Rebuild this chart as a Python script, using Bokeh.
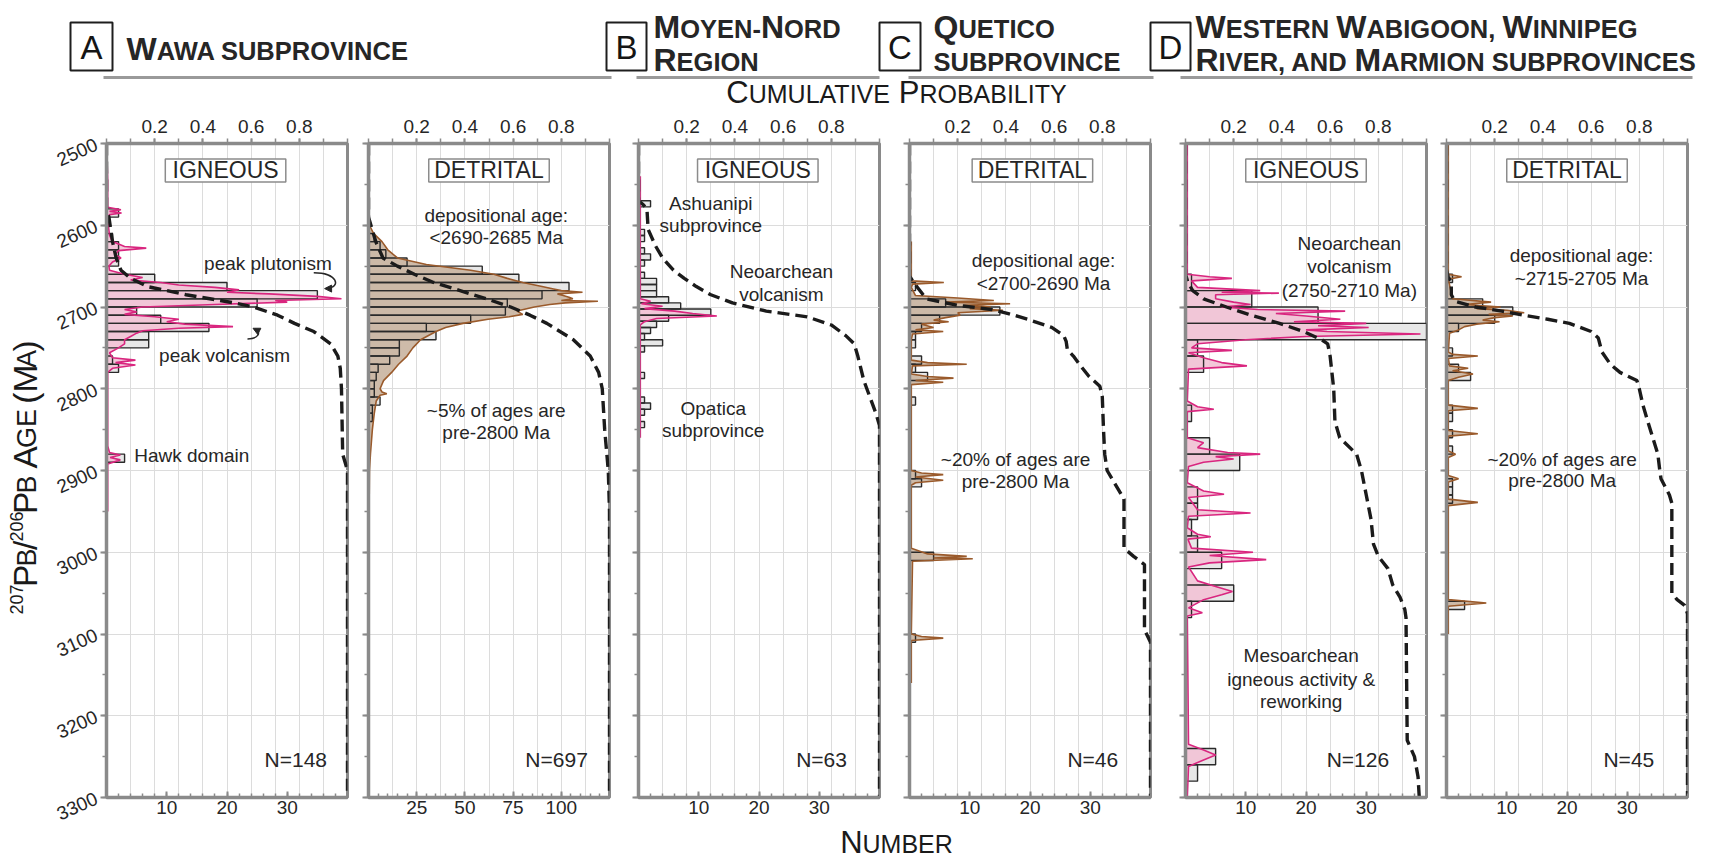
import math
from bokeh.plotting import figure
from bokeh.models import Range1d, LinearAxis, FixedTicker, Arrow, NormalHead
from bokeh.layouts import row, column
from bokeh.embed import file_html
from bokeh.resources import INLINE
from bokeh.core.properties import value

# ---------------------------------------------------------------- data
age_ticks = [2500, 2600, 2700, 2800, 2900, 3000, 3100, 3200, 3300]
age_minor_ticks = [2500, 2550, 2600, 2650, 2700, 2750, 2800, 2850, 2900, 2950,
                   3000, 3050, 3100, 3150, 3200, 3250, 3300]
prob_ticks = [0.2, 0.4, 0.6, 0.8]
prob_minor_ticks = [0.0, 0.1, 0.2, 0.3, 0.4, 0.5, 0.6, 0.7, 0.8, 0.9, 1.0]
num_ticks_40 = [10, 20, 30]
num_minor_40 = [0, 2, 4, 6, 8, 10, 12, 14, 16, 18, 20, 22, 24, 26, 28, 30, 32, 34, 36, 38, 40]
num_ticks_125 = [25, 50, 75, 100]
num_minor_125 = [0, 5, 10, 15, 20, 25, 30, 35, 40, 45, 50, 55, 60, 65, 70, 75, 80, 85, 90,
                 95, 100, 105, 110, 115, 120, 125]

# A - Wawa subprovince, igneous
wawa_ig_bin_start = [2580, 2610, 2620, 2630, 2640, 2660, 2670, 2680, 2690, 2700, 2710,
                     2720, 2730, 2740, 2760, 2770, 2880]
wawa_ig_bin_count = [2, 1, 2, 2, 2, 8, 20, 35, 25, 5, 9, 17, 7, 7, 1, 2, 3]
wawa_ig_kde_age = [2500, 2545, 2578, 2581, 2583, 2585, 2587, 2590, 2600, 2612,
                   2620, 2626, 2628, 2631, 2636, 2640, 2645, 2650, 2655, 2660,
                   2664, 2667, 2670, 2673, 2676, 2679, 2682, 2684, 2687, 2690,
                   2692, 2694, 2697, 2700, 2703, 2706, 2709, 2712, 2715, 2718,
                   2721, 2724, 2726, 2729, 2732, 2736, 2740, 2745, 2750, 2756,
                   2762, 2765, 2768, 2771, 2775, 2780, 2870, 2878, 2881, 2884,
                   2887, 2892, 2950]
wawa_ig_kde_val = [0, 0.2, 0.2, 2.4, 0.5, 2.5, 0.5, 0.2, 0.3, 0.5,
                   1.0, 3, 6.6, 2, 1.5, 2.4, 1, 0.4, 0.5, 3,
                   6, 4, 9, 12, 18, 22, 20, 27, 35, 39,
                   28, 30, 18, 6, 3, 5, 3, 8, 12, 10,
                   13, 21, 12, 6, 5, 4, 3, 3, 2, 0.5,
                   1, 4.8, 1.5, 4.8, 1, 0.2, 0.2, 0.5, 2.3, 0.6,
                   2.3, 0.2, 0.2]
wawa_ig_cum_age = [2500, 2580, 2590, 2600, 2620, 2640, 2655, 2665, 2675, 2685, 2695, 2700,
                   2710, 2720, 2730, 2745, 2760, 2775, 2800, 2880, 2890, 2900, 3300]
wawa_ig_cum_prob = [0, 0, 0.01, 0.015, 0.025, 0.04, 0.06, 0.10, 0.17, 0.33, 0.53, 0.61,
                    0.71, 0.78, 0.86, 0.93, 0.96, 0.97, 0.975, 0.98, 0.99, 1.0, 1.0]

# A - Wawa subprovince, detrital
wawa_dt_bin_start = [2610, 2620, 2630, 2640, 2650, 2660, 2670, 2680, 2690, 2700, 2710, 2720,
                     2730, 2740, 2750, 2760, 2770, 2780, 2790, 2800, 2810, 2820, 2830]
wawa_dt_bin_count = [3, 6, 9, 20, 59, 78, 104, 90, 72, 71, 53, 30,
                     35, 16, 16, 11, 5, 4, 3, 3, 6, 2, 2]
wawa_dt_kde_age = [2500, 2590, 2600, 2610, 2620, 2630, 2640, 2648, 2655, 2660,
                   2665, 2670, 2675, 2678, 2680, 2682, 2684, 2686, 2688, 2690,
                   2692, 2693, 2695, 2697, 2700, 2705, 2709, 2712, 2715, 2720,
                   2725, 2730, 2740, 2750, 2760, 2770, 2780, 2790, 2800, 2804,
                   2806, 2808, 2815, 2830, 2850, 2880, 2900, 2950, 3050]
wawa_dt_kde_val = [0, 0, 0.5, 2.6, 7, 10, 15, 30, 53, 65,
                   72, 80, 90, 96, 100, 111, 98, 101, 104, 106,
                   100, 119, 102, 94, 86, 77, 80, 73, 62, 49,
                   40, 35, 27, 23, 20, 15.6, 12, 7.8, 6, 7,
                   9.5, 6, 4, 3, 2, 1, 0.5, 0.3, 0]
wawa_dt_cum_age = [2500, 2590, 2600, 2620, 2640, 2650, 2660, 2670, 2680, 2690, 2700,
                   2710, 2720, 2740, 2760, 2780, 2800, 2850, 2900, 2950, 3300]
wawa_dt_cum_prob = [0, 0, 0.01, 0.03, 0.06, 0.12, 0.19, 0.27, 0.38, 0.49, 0.59,
                    0.67, 0.74, 0.85, 0.92, 0.955, 0.97, 0.98, 0.995, 1.0, 1.0]

# B - Moyen-Nord region, igneous
mn_ig_bin_start = [2570, 2605, 2612.5, 2627.5, 2635, 2642.5, 2657.5, 2665, 2672.5, 2680,
                   2687.5, 2695, 2702.5, 2710, 2717.5, 2725, 2732.5, 2740, 2747.5, 2780,
                   2810, 2817.5, 2825, 2840]
mn_ig_bin_count = [2, 1, 1, 1, 2, 1, 1, 3, 3, 3, 5, 7, 12, 5, 3, 2, 1, 4, 1, 1, 1, 2, 1, 1]
mn_ig_kde_age = [2540, 2690, 2693, 2696, 2699, 2702, 2705, 2708, 2711, 2714, 2718, 2722, 2860]
mn_ig_kde_val = [0.3, 0.3, 2, 0.5, 4, 1, 6, 9, 13, 3, 1, 0.3, 0.3]
mn_ig_cum_age = [2500, 2570, 2575, 2580, 2605, 2625, 2640, 2655, 2665, 2675, 2685, 2695,
                 2705, 2712, 2722, 2735, 2745, 2760, 2790, 2810, 2830, 2845, 3300]
mn_ig_cum_prob = [0, 0, 0.02, 0.035, 0.04, 0.07, 0.10, 0.145, 0.19, 0.24, 0.30, 0.39,
                  0.53, 0.70, 0.80, 0.86, 0.895, 0.91, 0.935, 0.96, 0.985, 1.0, 1.0]

# C - Quetico subprovince, detrital
qu_dt_bin_start = [2670, 2690, 2700, 2710, 2720, 2730, 2740, 2760, 2770, 2780, 2810,
                   2900, 2910, 3000, 3100]
qu_dt_bin_count = [1, 6, 15, 5, 2, 1, 1, 2, 1, 3, 1, 1, 2, 4, 1]
qu_dt_kde_age = [2620, 2668, 2670, 2672, 2676, 2686, 2689, 2692, 2694, 2696,
                 2698, 2700, 2702, 2704, 2707, 2710, 2713, 2716, 2718, 2721,
                 2725, 2728, 2730, 2733, 2740, 2765, 2768, 2770, 2772, 2782,
                 2785, 2787, 2790, 2792, 2795, 2900, 2903, 2905, 2908, 2912,
                 2915, 2918, 2995, 3002, 3005, 3007, 3008, 3011, 3100, 3103,
                 3105, 3108, 3160]
qu_dt_kde_val = [0.3, 0.3, 5.7, 0.5, 0.3, 1, 8, 14, 6, 16.7,
                 9, 13.5, 10, 15.5, 8, 8.4, 6, 4, 6.5, 2,
                 4, 1, 5.6, 0.5, 0.3, 0.3, 3, 9.5, 0.5, 0.3,
                 3, 7.3, 1, 5.6, 0.3, 0.3, 2, 5.6, 1, 5.6,
                 1, 0.3, 0.3, 3, 9.5, 4, 10.5, 0.5, 0.3, 2,
                 5.6, 0.3, 0.3]
qu_dt_cum_age = [2500, 2662, 2670, 2690, 2698, 2703, 2708, 2715, 2725, 2735, 2742, 2752,
                 2760, 2772, 2785, 2797, 2810, 2850, 2880, 2900, 2910, 2925, 2935, 2995,
                 3005, 3015, 3095, 3110, 3300]
qu_dt_cum_prob = [0, 0, 0.017, 0.07, 0.2, 0.34, 0.41, 0.49, 0.59, 0.64, 0.65, 0.655,
                  0.68, 0.71, 0.745, 0.79, 0.80, 0.805, 0.81, 0.82, 0.84, 0.87, 0.89, 0.89,
                  0.93, 0.975, 0.975, 1.0, 1.0]

# D - Western Wabigoon, Winnipeg River and Marmion, igneous
ww_ig_bin_start = [2660, 2680, 2700, 2720, 2740, 2760, 2820, 2860, 2880, 2920, 2940, 2960,
                   2980, 3000, 3040, 3060, 3240, 3260]
ww_ig_bin_count = [1, 11, 22, 40, 2, 3, 1, 4, 9, 2, 2, 1, 2, 6, 8, 1, 5, 2]
ww_ig_kde_age = [2500, 2660, 2663, 2665, 2668, 2676, 2680, 2682, 2683, 2685,
                 2690, 2694, 2697, 2700, 2703, 2705, 2708, 2711, 2715, 2718,
                 2720, 2723, 2725, 2728, 2730, 2733, 2736, 2740, 2745, 2750,
                 2753, 2756, 2762, 2768, 2772, 2776, 2815, 2822, 2825, 2828,
                 2860, 2866, 2872, 2878, 2880, 2883, 2886, 2890, 2895, 2915,
                 2925, 2929, 2933, 2948, 2952, 2956, 2970, 2978, 2981, 2984,
                 2995, 3000, 3004, 3009, 3013, 3018, 3035, 3042, 3048, 3052,
                 3058, 3068, 3074, 3078, 3235, 3242, 3248, 3254, 3262, 3300]
ww_ig_kde_val = [0.3, 0.3, 4, 7.7, 1, 2, 12.4, 6, 15.5, 5,
                 5, 8, 10.8, 6, 12, 26.5, 15, 20, 25.7, 18,
                 30, 22, 30.4, 20, 23.5, 39, 20, 10, 2, 1,
                 7.7, 0.5, 3, 6, 10.2, 0.5, 0.3, 2, 4.7, 0.3,
                 0.3, 3, 2, 7, 12.4, 5, 8, 3, 0.5, 0.3,
                 3, 6.4, 0.5, 2, 10.8, 0.5, 0.3, 2, 4.2, 0.4,
                 1, 11.2, 4, 13.4, 4, 0.5, 2, 5, 7.8, 6,
                 3, 0.5, 2.8, 0.3, 0.5, 3, 5, 3, 0.5, 0.3]
ww_ig_cum_age = [2500, 2660, 2670, 2680, 2690, 2700, 2710, 2720, 2730, 2740, 2745, 2760,
                 2800, 2840, 2860, 2880, 2900, 2930, 2960, 2990, 3005, 3020, 3040, 3055,
                 3070, 3080, 3230, 3250, 3275, 3300]
ww_ig_cum_prob = [0, 0, 0.01, 0.03, 0.075, 0.17, 0.27, 0.39, 0.49, 0.565, 0.59, 0.60,
                  0.615, 0.62, 0.64, 0.71, 0.73, 0.75, 0.77, 0.78, 0.80, 0.84, 0.86, 0.89,
                  0.91, 0.915, 0.92, 0.95, 0.965, 0.97]

# D - Western Wabigoon, Winnipeg River and Marmion, detrital
ww_dt_bin_start = [2660, 2690, 2700, 2710, 2720, 2750, 2770, 2780, 2820, 2830, 2850, 2870,
                   2910, 2920, 2930, 3060]
ww_dt_bin_count = [1, 6, 11, 8, 2, 1, 2, 4, 1, 1, 1, 1, 1, 1, 1, 3]
ww_dt_kde_age = [2500, 2660, 2663, 2666, 2690, 2694, 2697, 2700, 2702, 2704,
                 2707, 2709, 2711, 2713, 2716, 2718, 2721, 2724, 2728, 2732,
                 2755, 2758, 2760, 2763, 2772, 2775, 2778, 2782, 2786, 2790,
                 2820, 2824, 2827, 2851, 2855, 2858, 2876, 2880, 2884, 2906,
                 2910, 2914, 2935, 2939, 2943, 3058, 3062, 3066, 3100]
ww_dt_kde_val = [0.3, 0.3, 2.5, 0.3, 1, 7.4, 3, 9, 5, 10,
                 12.9, 7, 11, 8, 6, 8.8, 5, 3, 2, 0.5,
                 0.3, 1, 5.2, 0.3, 0.5, 3.6, 1, 4.4, 2, 0.3,
                 0.3, 5.2, 0.3, 0.3, 5.2, 0.3, 0.3, 1.5, 0.3, 0.3,
                 2, 0.3, 0.3, 5.2, 0.3, 0.3, 6.6, 0.3, 0.3]
ww_dt_cum_age = [2500, 2655, 2663, 2670, 2685, 2693, 2700, 2705, 2710, 2715, 2720, 2730,
                 2738, 2755, 2770, 2780, 2790, 2800, 2820, 2840, 2860, 2880, 2900, 2910,
                 2930, 2940, 3050, 3058, 3065, 3075, 3300]
ww_dt_cum_prob = [0, 0, 0.007, 0.02, 0.02, 0.035, 0.12, 0.23, 0.32, 0.42, 0.51, 0.60,
                  0.63, 0.645, 0.68, 0.72, 0.79, 0.80, 0.815, 0.835, 0.856, 0.877, 0.885, 0.89,
                  0.925, 0.935, 0.935, 0.957, 0.988, 1.0, 1.0]

# ---------------------------------------------------------------- style / layout
FONT = "Liberation Sans"
TXT = "#262626"
AXC = "#8a8a8a"
GRID = "#dcdcdc"
PINK, PINK_FILL = "#d9267f", "#f2c2d5"
BROWN, TAN_FILL = "#9a5a2b", "#c9b4a0"
BAR_FILL, BAR_LINE = "#e7e7e7", "#2a2a2a"

W_TOTAL = 1732
HEADER_H, FOOT_H = 110, 38
BORDER_TOP, FRAME_H, BORDER_BOT = 33, 654, 27
PANEL_H = BORDER_TOP + FRAME_H + BORDER_BOT
FRAME_W = 241
YLAB_W = 46
frame_lefts = [106, 368, 638, 909, 1185, 1446]
bounds = [YLAB_W, 357, 623, 894, 1167, 1436, 1732]
BASE_SHIFT = 0.30   # correction for the alphabetic baseline as rendered

REG = {'A': 667, 'B': 667, 'C': 722, 'D': 722, 'E': 667, 'F': 611, 'G': 778, 'H': 722,
       'I': 278, 'J': 500, 'K': 667, 'L': 556, 'M': 833, 'N': 722, 'O': 778, 'P': 667,
       'Q': 778, 'R': 722, 'S': 667, 'T': 611, 'U': 722, 'V': 667, 'W': 944, 'X': 667,
       'Y': 667, 'Z': 611, ' ': 278, ',': 278, '-': 333, '(': 333, ')': 333, '/': 278,
       '&': 667, '.': 278}
for _d in "0123456789":
    REG[_d] = 556
BOLD = dict(REG)
BOLD.update({'A': 722, 'B': 722, 'J': 556, 'K': 722, 'L': 611})


def run_width(s, size, bold=False):
    tbl = BOLD if bold else REG
    return sum(tbl.get(c, 600) for c in s) * size / 1000.0


def sc_runs(txt):
    runs = []
    for ch in txt:
        if ch.isalpha():
            big, s = ch.isupper(), ch.upper()
        else:
            big, s = (ch in "()/&"), ch
        if runs and runs[-1][1] == big:
            runs[-1][0] += s
        else:
            runs.append([s, big])
    return runs


def draw_sc(p, x, y, txt, big, small, bold=False, align="left", color=TXT):
    runs = sc_runs(txt)
    sizes = [big if b else small for _, b in runs]
    widths = [run_width(s, sz, bold) for (s, _), sz in zip(runs, sizes)]
    cx = x - sum(widths) / 2.0 if align == "center" else x
    for (s, _), sz, w in zip(runs, sizes, widths):
        lead = len(s) - len(s.lstrip(' '))
        t = s.strip(' ')
        if t:
            p.text(x=[cx + run_width(' ' * lead, sz, bold)], y=[y - BASE_SHIFT * sz], text=[t],
                   text_font=value(FONT), text_font_size=f"{sz}px",
                   text_font_style="bold" if bold else "normal",
                   text_align="left", text_baseline="alphabetic", text_color=color)
        cx += w


def canvas(w, h, flip=True):
    p = figure(width=w, height=h, x_range=Range1d(0, w),
               y_range=Range1d(h, 0) if flip else Range1d(0, h),
               x_axis_location=None, y_axis_location=None, title=None,
               output_backend="svg", toolbar_location=None, min_border=0)
    p.outline_line_color = None
    p.background_fill_color = "white"
    p.border_fill_color = "white"
    for g in p.grid:
        g.visible = False
    p.xgrid.grid_line_color = None
    p.ygrid.grid_line_color = None
    return p


# ---------------------------------------------------------------- header
hdr = canvas(W_TOTAL, HEADER_H)
boxes = [("A", 70, 112), ("B", 606, 646), ("C", 879, 920), ("D", 1150, 1190)]
hdr.quad(left=[b[1] for b in boxes], right=[b[2] for b in boxes], top=[22] * 4,
         bottom=[70] * 4, fill_color=None, line_color="#1e1e1e", line_width=2)
hdr.text(x=[(b[1] + b[2]) / 2 for b in boxes], y=[47] * 4, text=[b[0] for b in boxes],
         text_font=value(FONT), text_font_size="33px", text_align="center",
         text_baseline="middle", text_color="#151515")
hdr.segment(x0=[103, 636, 908, 1180], x1=[611, 879, 1153, 1692], y0=[77] * 4, y1=[77] * 4,
            line_color="#9a9a9a", line_width=3)
BIG_H, SMALL_H = 32, 25.5
draw_sc(hdr, 126, 58, "Wawa subprovince", BIG_H, SMALL_H, bold=True)
draw_sc(hdr, 653, 36, "Moyen-Nord", BIG_H, SMALL_H, bold=True)
draw_sc(hdr, 653, 69, "Region", BIG_H, SMALL_H, bold=True)
draw_sc(hdr, 933, 36, "Quetico", BIG_H, SMALL_H, bold=True)
draw_sc(hdr, 933, 69, "subprovince", BIG_H, SMALL_H, bold=True)
draw_sc(hdr, 1195, 36, "Western Wabigoon, Winnipeg", BIG_H, SMALL_H, bold=True)
draw_sc(hdr, 1195, 69, "River, and Marmion subprovinces", BIG_H, SMALL_H, bold=True)
draw_sc(hdr, 896, 101, "Cumulative Probability", 31, 25, align="center", color="#1a1a1a")

# ---------------------------------------------------------------- footer
ftr = canvas(W_TOTAL, FOOT_H)
draw_sc(ftr, 896, 27, "Number", 31, 25, align="center", color="#1a1a1a")

# ---------------------------------------------------------------- y label
ylab = canvas(YLAB_W, PANEL_H, flip=False)
ylab_runs = [("207", "sup"), ("P", "big"), ("B", "small"), ("/", "big"), ("206", "sup"),
             ("P", "big"), ("B", "small"), (" A", "big"), ("GE", "small"), (" (M", "big"),
             ("A", "small"), (")", "big")]
ysz = {"big": 33.5, "small": 27, "sup": 18}
ylen = sum(run_width(s, ysz[k]) for s, k in ylab_runs)
y_center = PANEL_H - (475 - HEADER_H)
cy = y_center - ylen / 2.0
Y_BASE_X = 35
for s, k in ylab_runs:
    sz = ysz[k]
    lead = len(s) - len(s.lstrip(' '))
    t = s.strip(' ')
    bx = Y_BASE_X - (14 if k == "sup" else 0) - BASE_SHIFT * sz
    ylab.text(x=[bx], y=[cy + run_width(' ' * lead, sz)], text=[t],
              angle=math.pi / 2, text_font=value(FONT), text_font_size=f"{sz}px",
              text_align="left", text_baseline="alphabetic", text_color="#1a1a1a")
    cy += run_width(s, sz)

# ---------------------------------------------------------------- panels
panels = [
    dict(kind="IGNEOUS", kind_x=0.494, num_max=40, nt=num_ticks_40, nm=num_minor_40, bw=10,
         starts=wawa_ig_bin_start, counts=wawa_ig_bin_count, ka=wawa_ig_kde_age,
         kv=wawa_ig_kde_val, ca=wawa_ig_cum_age, cp=wawa_ig_cum_prob, lc=PINK, fc=PINK_FILL,
         n="N=148", n_x=0.915,
         notes=[("peak plutonism", 0.67, 2647, "center"), ("peak volcanism", 0.49, 2759, "center"),
                ("Hawk domain", 0.115, 2882, "left")]),
    dict(kind="DETRITAL", kind_x=0.5, num_max=125, nt=num_ticks_125, nm=num_minor_125, bw=10,
         starts=wawa_dt_bin_start, counts=wawa_dt_bin_count, ka=wawa_dt_kde_age,
         kv=wawa_dt_kde_val, ca=wawa_dt_cum_age, cp=wawa_dt_cum_prob, lc=BROWN, fc=TAN_FILL,
         n="N=697", n_x=0.91,
         notes=[("depositional age:", 0.53, 2588, "center"), ("<2690-2685 Ma", 0.53, 2615, "center"),
                ("~5% of ages are", 0.53, 2827, "center"), ("pre-2800 Ma", 0.53, 2853, "center")]),
    dict(kind="IGNEOUS", kind_x=0.495, num_max=40, nt=num_ticks_40, nm=num_minor_40, bw=7.5,
         starts=mn_ig_bin_start, counts=mn_ig_bin_count, ka=mn_ig_kde_age,
         kv=mn_ig_kde_val, ca=mn_ig_cum_age, cp=mn_ig_cum_prob, lc=PINK, fc=PINK_FILL,
         n="N=63", n_x=0.865,
         notes=[("Ashuanipi", 0.30, 2573, "center"), ("subprovince", 0.30, 2600, "center"),
                ("Neoarchean", 0.593, 2657, "center"), ("volcanism", 0.593, 2685, "center"),
                ("Opatica", 0.31, 2824, "center"), ("subprovince", 0.31, 2851, "center")]),
    dict(kind="DETRITAL", kind_x=0.51, num_max=40, nt=num_ticks_40, nm=num_minor_40, bw=10,
         starts=qu_dt_bin_start, counts=qu_dt_bin_count, ka=qu_dt_kde_age,
         kv=qu_dt_kde_val, ca=qu_dt_cum_age, cp=qu_dt_cum_prob, lc=BROWN, fc=TAN_FILL,
         n="N=46", n_x=0.866,
         notes=[("depositional age:", 0.556, 2643, "center"), ("<2700-2690 Ma", 0.556, 2671, "center"),
                ("~20% of ages are", 0.44, 2887, "center"), ("pre-2800 Ma", 0.44, 2913, "center")]),
    dict(kind="IGNEOUS", kind_x=0.50, num_max=40, nt=num_ticks_40, nm=num_minor_40, bw=20,
         starts=ww_ig_bin_start, counts=ww_ig_bin_count, ka=ww_ig_kde_age,
         kv=ww_ig_kde_val, ca=ww_ig_cum_age, cp=ww_ig_cum_prob, lc=PINK, fc=PINK_FILL,
         n="N=126", n_x=0.845,
         notes=[("Neoarchean", 0.68, 2622, "center"), ("volcanism", 0.68, 2651, "center"),
                ("(2750-2710 Ma)", 0.68, 2680, "center"), ("Mesoarchean", 0.48, 3126, "center"),
                ("igneous activity &", 0.48, 3156, "center"), ("reworking", 0.48, 3183, "center")]),
    dict(kind="DETRITAL", kind_x=0.50, num_max=40, nt=num_ticks_40, nm=num_minor_40, bw=10,
         starts=ww_dt_bin_start, counts=ww_dt_bin_count, ka=ww_dt_kde_age,
         kv=ww_dt_kde_val, ca=ww_dt_cum_age, cp=ww_dt_cum_prob, lc=BROWN, fc=TAN_FILL,
         n="N=45", n_x=0.862,
         notes=[("depositional age:", 0.56, 2637, "center"), ("~2715-2705 Ma", 0.56, 2665, "center"),
                ("~20% of ages are", 0.48, 2886, "center"), ("pre-2800 Ma", 0.48, 2912, "center")]),
]


def make_panel(i, c):
    left_b = frame_lefts[i] - bounds[i]
    right_b = bounds[i + 1] - (frame_lefts[i] + FRAME_W)
    p = figure(width=bounds[i + 1] - bounds[i], height=PANEL_H, x_range=Range1d(0, 1),
               y_range=Range1d(3300, 2500), x_axis_location="above", title=None,
               output_backend="svg", toolbar_location=None,
               min_border_left=left_b, min_border_right=right_b,
               min_border_top=BORDER_TOP, min_border_bottom=BORDER_BOT)
    p.background_fill_color = "white"
    p.border_fill_color = "white"
    p.outline_line_color = AXC
    p.outline_line_width = 3
    p.extra_x_ranges = {"num": Range1d(0, c["num_max"])}

    top = p.above[0]
    top.ticker = FixedTicker(ticks=prob_ticks, minor_ticks=prob_minor_ticks)
    bottom = LinearAxis(x_range_name="num",
                        ticker=FixedTicker(ticks=c["nt"], minor_ticks=c["nm"]))
    p.add_layout(bottom, "below")
    yax = p.left[0]
    yax.ticker = FixedTicker(ticks=age_ticks, minor_ticks=age_minor_ticks)
    for ax in (top, bottom, yax):
        ax.axis_line_color = AXC
        ax.axis_line_width = 3.5
        ax.major_tick_line_color = AXC
        ax.major_tick_line_width = 2
        ax.minor_tick_line_color = AXC
        ax.minor_tick_line_width = 1.5
        ax.major_label_text_font = FONT
        ax.major_label_text_font_size = "19px"
        ax.major_label_text_color = TXT
    top.major_tick_in, top.major_tick_out = 0, 5
    top.minor_tick_in, top.minor_tick_out = 0, 5
    top.major_label_standoff = 6
    bottom.major_tick_in, bottom.major_tick_out = 6, 0
    bottom.minor_tick_in, bottom.minor_tick_out = 4, 0
    bottom.major_label_standoff = 3
    yax.major_tick_in, yax.major_tick_out = 0, 6
    yax.minor_tick_in, yax.minor_tick_out = 0, 4
    if i == 0:
        yax.major_label_orientation = 0.42
        yax.major_label_standoff = 4
    else:
        yax.major_label_overrides = {t: "" for t in age_ticks}
        yax.major_label_standoff = 0

    p.xgrid.grid_line_color = GRID
    p.xgrid.minor_grid_line_color = GRID
    p.ygrid.grid_line_color = GRID
    p.ygrid.minor_grid_line_color = None

    bw = c["bw"]
    centers = [s + bw / 2.0 for s in c["starts"]]
    p.hbar(y=centers, height=bw, left=0, right=c["counts"], x_range_name="num",
           fill_color=BAR_FILL, line_color=None)
    p.harea(x1=0, x2=c["kv"], y=c["ka"], x_range_name="num", fill_color=c["fc"],
            fill_alpha=0.9)
    p.hbar(y=centers, height=bw, left=0, right=c["counts"], x_range_name="num",
           fill_color=None, line_color=BAR_LINE, line_width=1.4)
    p.line(x=c["kv"], y=c["ka"], x_range_name="num", line_color=c["lc"], line_width=1.6)
    p.line(x=c["cp"], y=c["ca"], line_color="#1b1b1b", line_width=3.4, line_dash="12 6")

    # IGNEOUS / DETRITAL label box
    p.rect(x=[c["kind_x"]], y=[2533], width=[0.5], height=[28], fill_color="white",
           line_color="#8c8c8c", line_width=1.5)
    p.text(x=[c["kind_x"]], y=[2533], text=[c["kind"]], text_align="center",
           text_baseline="middle", text_font=value(FONT), text_font_size="23px",
           text_color=TXT)
    for align in ("center", "left"):
        sel = [n for n in c["notes"] if n[3] == align]
        if sel:
            p.text(x=[n[1] for n in sel], y=[n[2] for n in sel], text=[n[0] for n in sel],
                   text_align=align, text_baseline="middle", text_font=value(FONT),
                   text_font_size="19px", text_color=TXT)
    p.text(x=[c["n_x"]], y=[3253], text=[c["n"]], text_align="right", text_baseline="middle",
           text_font=value(FONT), text_font_size="21px", text_color=TXT)
    return p


figs = [make_panel(i, c) for i, c in enumerate(panels)]

# curved arrows in panel A
pa = figs[0]
pa.bezier(x0=[0.86, 0.585], y0=[2658, 2739], x1=[0.915, 0.615], y1=[2677, 2727],
          cx0=[0.96, 0.63], cy0=[2658, 2739], cx1=[0.975, 0.645], cy1=[2676, 2731],
          line_color=TXT, line_width=1.5)
pa.add_layout(Arrow(end=NormalHead(size=7, fill_color=TXT, line_color=TXT, line_width=1),
                    x_start=0.935, y_start=2677.5, x_end=0.905, y_end=2677.5,
                    line_color=TXT, line_width=1.5))
pa.add_layout(Arrow(end=NormalHead(size=7, fill_color=TXT, line_color=TXT, line_width=1),
                    x_start=0.625, y_start=2728.5, x_end=0.608, y_end=2726.0,
                    line_color=TXT, line_width=1.5))

layout = column(hdr, row(ylab, *figs), ftr)
open("out.html", "w").write(file_html(layout, INLINE))
